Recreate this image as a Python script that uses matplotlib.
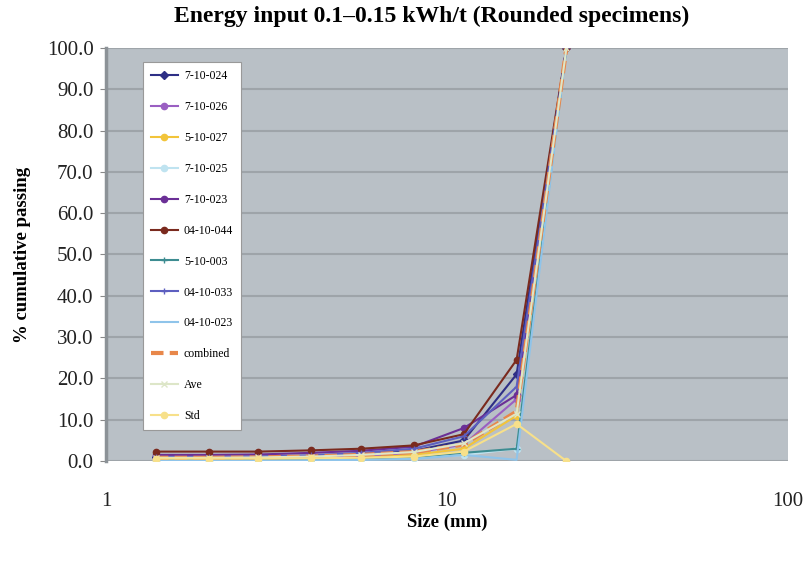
#!/usr/bin/env python3
# -*- coding: UTF-8 -*-

import numpy as np
import matplotlib
matplotlib.use('Agg')
import matplotlib.pyplot as plt
from matplotlib.ticker import FixedLocator, FixedFormatter, NullLocator

# Sieve sizes (mm)
sizes = [1.4, 2.0, 2.8, 4.0, 5.6, 8.0, 11.2, 16.0, 22.4]

# % cumulative passing per specimen
s_7_10_024 = [1.0, 1.0, 1.0, 1.2, 1.5, 2.5, 5.0, 21.0, 100.0]
s_7_10_026 = [0.5, 0.5, 0.6, 0.8, 1.2, 2.0, 4.0, 15.0, 100.0]
s_5_10_027 = [0.3, 0.3, 0.4, 0.5, 0.8, 1.5, 3.0, 11.0, 100.0]
s_7_10_025 = [0.2, 0.2, 0.3, 0.4, 0.5, 0.8, 1.5, 3.0, 100.0]
s_7_10_023 = [1.5, 1.5, 1.6, 2.0, 2.5, 3.5, 8.0, 16.0, 100.0]
s_04_10_044 = [2.3, 2.3, 2.3, 2.6, 3.0, 3.8, 6.5, 24.5, 100.0]
s_5_10_003 = [0.3, 0.3, 0.3, 0.4, 0.6, 1.0, 2.0, 3.0, 100.0]
s_04_10_033 = [1.0, 1.0, 1.1, 1.4, 2.0, 3.0, 6.0, 18.0, 100.0]
s_04_10_023 = [0.1, 0.1, 0.1, 0.2, 0.3, 0.5, 1.5, 0.3, 100.0]
combined = [0.8, 0.8, 0.9, 1.1, 1.5, 2.2, 4.0, 12.0, 100.0]
ave = [0.8, 0.8, 0.9, 1.1, 1.5, 2.2, 4.3, 11.5, 100.0]
std = [0.6, 0.6, 0.6, 0.7, 0.8, 1.1, 2.3, 9.0, 0.0]

series = [
    ('7-10-024', s_7_10_024, '#2e2f86', 'D', '-'),
    ('7-10-026', s_7_10_026, '#9a5fc2', 'o', '-'),
    ('5-10-027', s_5_10_027, '#f2c43a', 'o', '-'),
    ('7-10-025', s_7_10_025, '#bfe3f0', 'o', '-'),
    ('7-10-023', s_7_10_023, '#6b2f96', 'o', '-'),
    ('04-10-044', s_04_10_044, '#7a2a1e', 'o', '-'),
    ('5-10-003', s_5_10_003, '#3d8c91', '+', '-'),
    ('04-10-033', s_04_10_033, '#5d5fc0', '+', '-'),
    ('04-10-023', s_04_10_023, '#8fc4ea', '', '-'),
    ('combined', combined, '#e8874a', '', '--'),
    ('Ave', ave, '#dde6c8', 'x', '-'),
    ('Std', std, '#f7e08a', 'o', '-'),
]

plt.rcParams['font.family'] = ['Liberation Serif', 'DejaVu Serif']

fig = plt.figure(figsize=(8.05, 5.63), dpi=100)
ax = fig.add_axes([106 / 805, 0.181, 682 / 805, 0.734])
ax.set_facecolor('#b9c0c6')

for label, vals, color, marker, ls in series:
    lw = 3.0 if label == 'combined' else 1.5
    ax.plot(sizes, vals, color=color, marker=marker, markersize=4.5,
            linestyle=ls, linewidth=lw, label=label,
            dashes=(3, 1.5) if ls == '--' else (None, None))

ax.set_xscale('log')
ax.set_xlim(1, 100)
ax.set_ylim(0, 100)
ax.xaxis.set_major_locator(FixedLocator([1, 10, 100]))
ax.xaxis.set_major_formatter(FixedFormatter(['1', '10', '100']))
ax.xaxis.set_minor_locator(NullLocator())
ax.set_yticks(np.arange(0, 101, 10))
ax.set_yticklabels(['%.1f' % v for v in np.arange(0, 101, 10)])
ax.tick_params(axis='both', labelsize=15, colors='#222222')
ax.tick_params(axis='x', length=0, pad=22)
ax.tick_params(axis='y', length=4, color='#888888', pad=5)

ax.grid(True, axis='y', color='#9ea4a9', linewidth=1.5)
ax.set_axisbelow(True)
for side in ['top', 'right', 'bottom']:
    ax.spines[side].set_visible(False)
ax.spines['left'].set_color('#8c9297')
ax.spines['left'].set_linewidth(2.5)

ax.set_xlabel('Size (mm)', fontsize=13.5, fontweight='bold', labelpad=2)
ax.set_ylabel('% cumulative passing', fontsize=13.5, fontweight='bold', labelpad=11)
fig.text(432 / 805, 1 - 16 / 563, 'Energy input 0.1\u20130.15 kWh/t (Rounded specimens)',
         fontsize=17, fontweight='bold', ha='center', va='center')

leg = ax.legend(loc='upper left', bbox_to_anchor=(0.045, 0.98), fontsize=8.5,
                labelspacing=1.6, handlelength=2.3, borderpad=0.7,
                handletextpad=0.5, fancybox=False, framealpha=1.0,
                edgecolor='#999999')
leg.get_frame().set_linewidth(0.8)

fig.savefig('out.png', dpi=100, facecolor='white')
